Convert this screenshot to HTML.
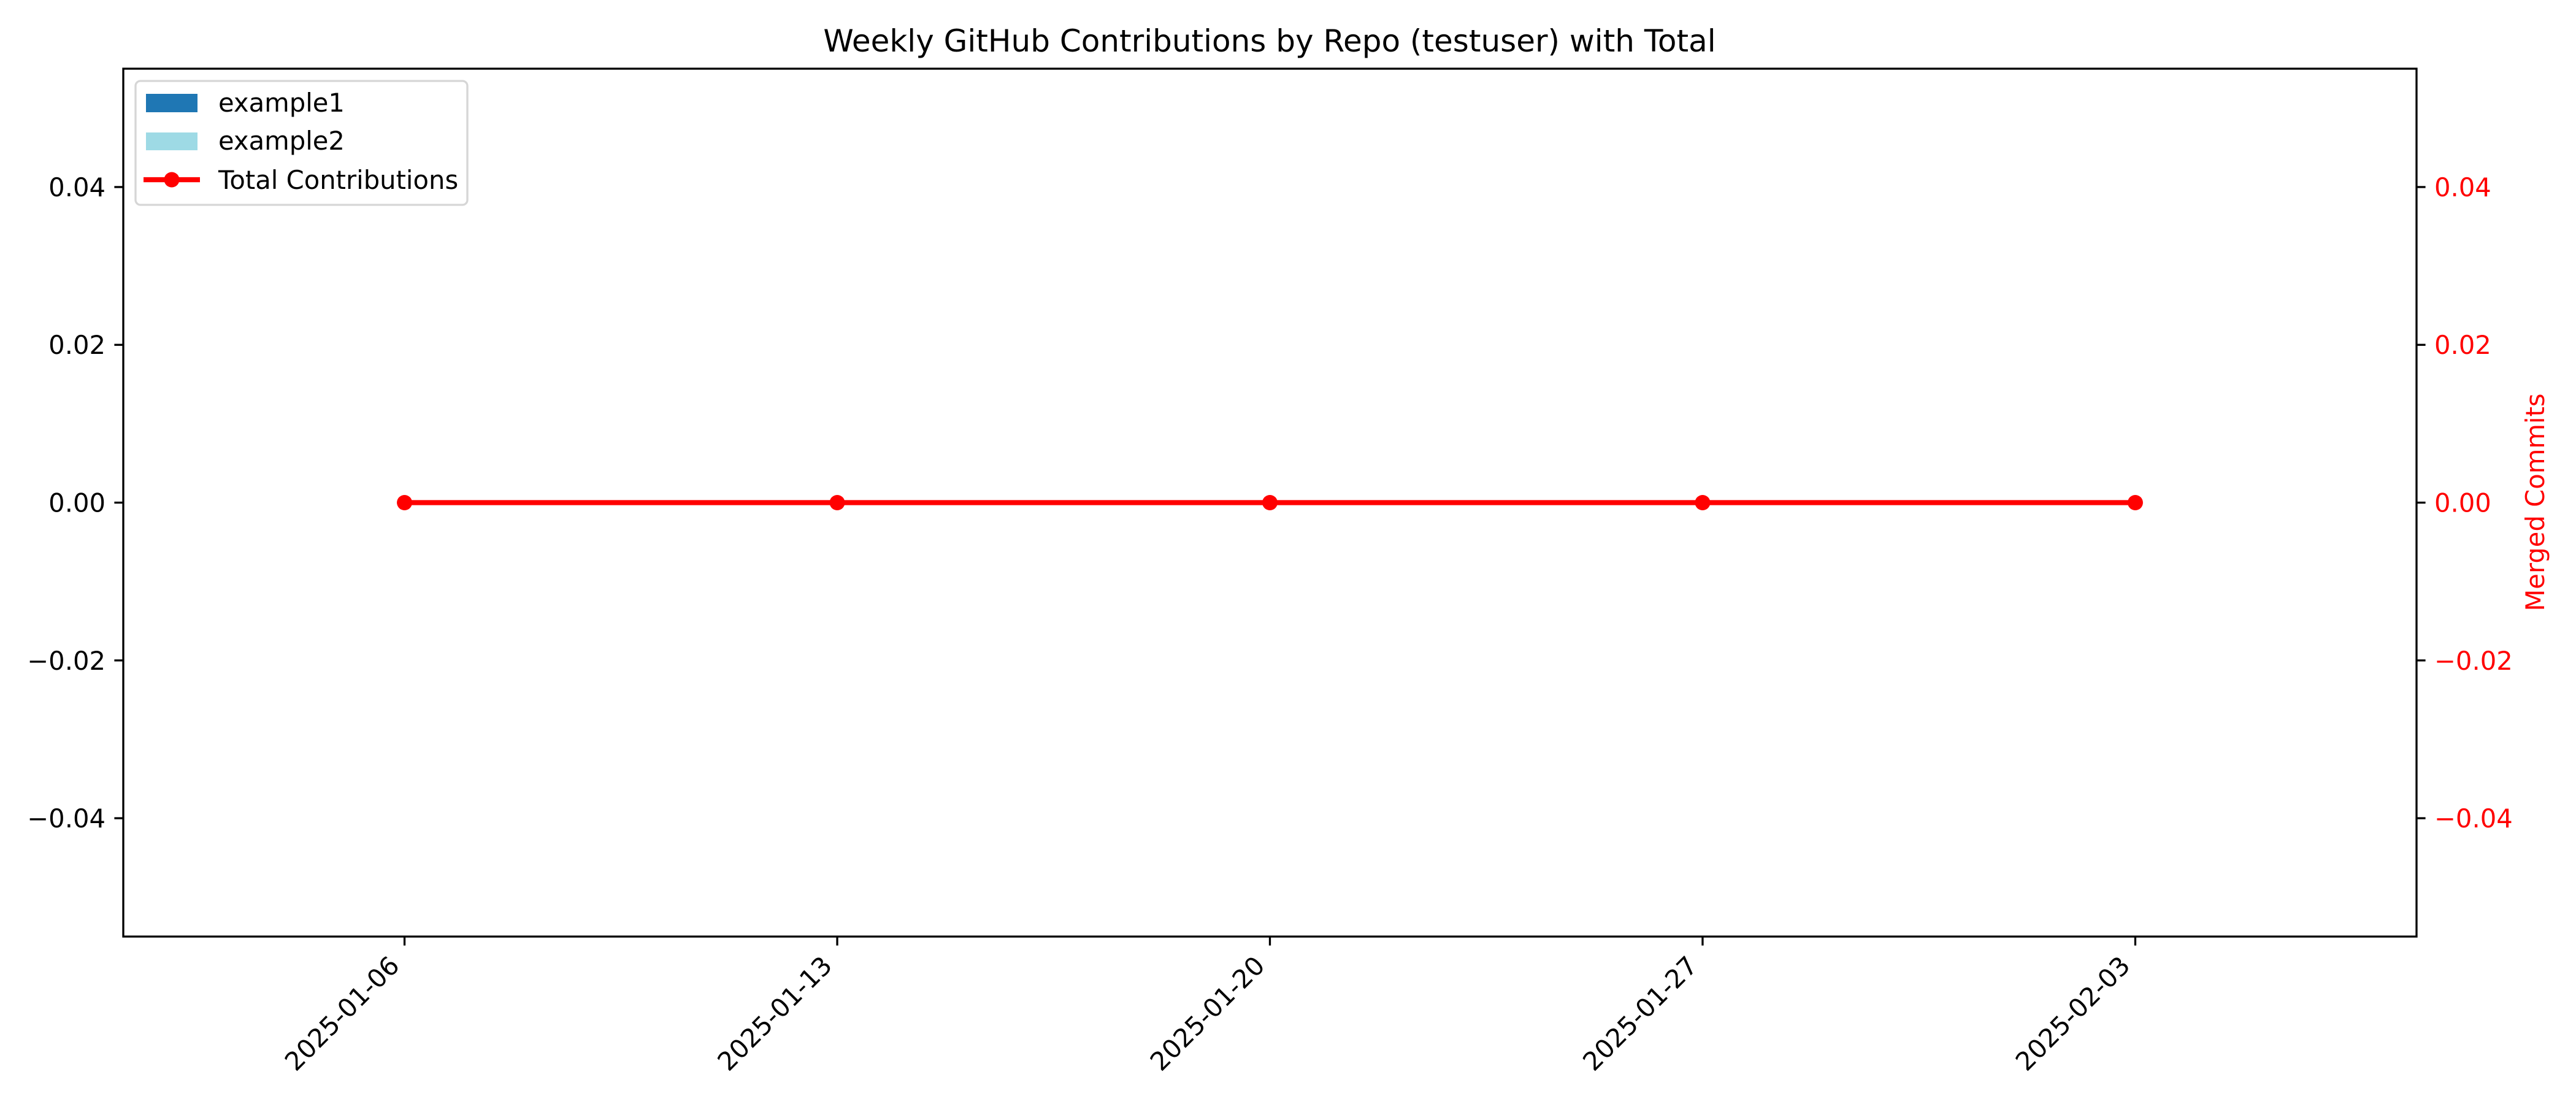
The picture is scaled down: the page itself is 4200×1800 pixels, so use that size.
<!DOCTYPE html>
<html><head><meta charset="utf-8"><style>
html,body{margin:0;padding:0;background:#fff}
svg{display:block;font-family:"DejaVu Sans","Liberation Sans",sans-serif}
</style></head><body>
<svg id="chart" width="4200" height="1800" viewBox="0 0 4200 1800" xmlns="http://www.w3.org/2000/svg">
<rect width="4200" height="1800" fill="#fff"/>
<text x="2070" y="84" font-size="50" text-anchor="middle">Weekly GitHub Contributions by Repo (testuser) with Total</text>
<g id="plot"></g>
<g id="legend">
<rect x="221" y="132" width="541" height="202" rx="8" fill="#fff" fill-opacity="0.8" stroke="#d6d6d6" stroke-width="3.3"/>
<rect x="238" y="153" width="84" height="30" fill="#1f77b4"/>
<text x="356" y="182" font-size="41.7">example1</text>
<rect x="238" y="216" width="84" height="29" fill="#9edae5"/>
<text x="356" y="244" font-size="41.7">example2</text>
<line x1="234" y1="293" x2="326" y2="293" stroke="#ff0000" stroke-width="8.3"/>
<circle cx="280" cy="293" r="12.5" fill="#ff0000"/>
<text x="356" y="308" font-size="41.7">Total Contributions</text>
</g>
</svg>
<script>
const categories = ["2025-01-06","2025-01-13","2025-01-20","2025-01-27","2025-02-03"];
const example1Values = [0,0,0,0,0];
const example2Values = [0,0,0,0,0];
const totalValues = [0,0,0,0,0];
const leftTicks = [-0.04,-0.02,0,0.02,0.04];
const rightTicks = [-0.04,-0.02,0,0.02,0.04];

const NS="http://www.w3.org/2000/svg";
const L=201,R=3940,T=112,B=1527;
const xMin=-0.65,xMax=4.65,yMin=-0.055,yMax=0.055;
function xs(i){return L+(i-xMin)/(xMax-xMin)*(R-L);}
function ys(v){return B-(v-yMin)/(yMax-yMin)*(B-T);}
function mk(tag,attrs,parent){const e=document.createElementNS(NS,tag);for(const k in attrs)e.setAttribute(k,attrs[k]);parent.appendChild(e);return e;}
function fmt(v){const s=Math.abs(v).toFixed(2);return (v<-1e-9?"\u2212":"")+s;}
const g=document.getElementById('plot');

// bars (stacked)
const bw=0.8*(R-L)/(xMax-xMin);
categories.forEach((c,i)=>{
  const b1=mk('rect',{x:xs(i)-bw/2,y:Math.min(ys(example1Values[i]),ys(0)),width:bw,height:Math.abs(ys(example1Values[i])-ys(0)),fill:'#1f77b4'},g);
  
  
  const base=example1Values[i];
  const b2=mk('rect',{x:xs(i)-bw/2,y:Math.min(ys(base+example2Values[i]),ys(base)),width:bw,height:Math.abs(ys(base+example2Values[i])-ys(base)),fill:'#9edae5'},g);
  
  
});

// total line
const pts=totalValues.map((v,i)=>xs(i)+','+ys(v)).join(' ');
const pl=mk('polyline',{points:pts,fill:'none',stroke:'#ff0000','stroke-width':8.3,'stroke-linejoin':'round'},g);


totalValues.forEach((v,i)=>{
  const c=mk('circle',{cx:xs(i),cy:ys(v),r:12.5,fill:'#ff0000'},g);
  
  
});

// frame
const fr=mk('rect',{x:L,y:T,width:R-L,height:B-T,fill:'none',stroke:'#000','stroke-width':3.3},g);



// left ticks
leftTicks.forEach(v=>{
  const y=ys(v);
  const t=mk('line',{x1:L-14.6,y1:y,x2:L,y2:y,stroke:'#000','stroke-width':3.3},g);
  
  
  const tx=mk('text',{x:L-29,y:y+15,'font-size':41.7,'text-anchor':'end'},g);
  tx.textContent=fmt(v);
  
  
});
// right ticks
rightTicks.forEach(v=>{
  const y=ys(v);
  const t=mk('line',{x1:R,y1:y,x2:R+14.6,y2:y,stroke:'#000','stroke-width':3.3},g);
  
  
  const tx=mk('text',{x:R+29,y:y+15,'font-size':41.7,fill:'#ff0000'},g);
  tx.textContent=fmt(v);
  
  
});
// x ticks
categories.forEach((c,i)=>{
  const x=xs(i);
  const t=mk('line',{x1:x,y1:B,x2:x,y2:B+14.6,stroke:'#000','stroke-width':3.3},g);
  
  
  const ax=x-6,ay=1577;
  const tx=mk('text',{x:ax,y:ay,'font-size':41.7,'text-anchor':'end',transform:'rotate(-45 '+ax+' '+ay+')'},g);
  tx.textContent=c;
  
  
});
// right axis title
const yl=mk('text',{x:4148,y:819,'font-size':41.7,fill:'#ff0000','text-anchor':'middle',transform:'rotate(-90 4148 819)'},g);
yl.textContent='Merged Commits';


</script>
</body></html>
